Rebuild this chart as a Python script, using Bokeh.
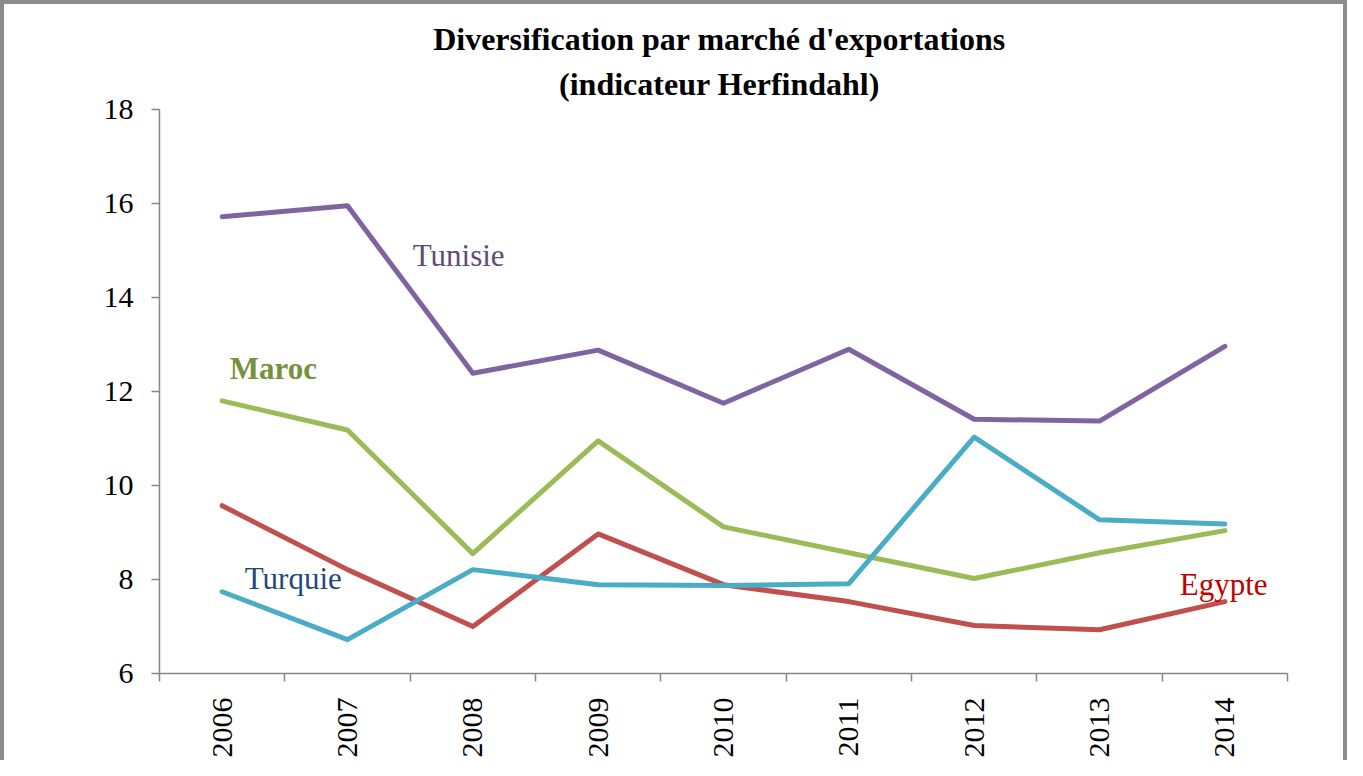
import math
from bokeh.plotting import figure
from bokeh.models import Range1d, FixedTicker, Title, Label
from bokeh.embed import file_html
from bokeh.resources import INLINE

# ---- data ----
years = [2006, 2007, 2008, 2009, 2010, 2011, 2012, 2013, 2014]
tunisie = [15.72, 15.95, 12.39, 12.88, 11.75, 12.90, 11.41, 11.37, 12.96]
maroc = [11.80, 11.18, 8.55, 10.95, 9.12, 8.57, 8.02, 8.57, 9.04]
egypte = [9.57, 8.21, 7.00, 8.97, 7.89, 7.53, 7.02, 6.93, 7.53]
turquie = [7.74, 6.72, 8.21, 7.89, 7.87, 7.91, 11.03, 9.27, 9.18]
y_ticks = [6, 8, 10, 12, 14, 16, 18]
title_line1 = "Diversification  par marché d'exportations"
title_line2 = "(indicateur  Herfindahl)"

SERIF = "Liberation Serif"
GRAY = "#868686"

p = figure(width=1347, height=760,
           x_range=Range1d(years[0] - 0.5, years[-1] + 0.5),
           y_range=Range1d(y_ticks[0], y_ticks[-1]),
           output_backend="svg", toolbar_location=None,
           min_border_left=159, min_border_right=60,
           min_border_top=109, min_border_bottom=86)

p.border_fill_alpha = 0
p.background_fill_color = "white"
p.outline_line_color = None
p.styles = {"background-color": "white",
            "box-shadow": "inset 4px 4px 0 0 #8c8c8c, inset -4px 0 0 0 #8c8c8c"}
p.xgrid.visible = False
p.ygrid.visible = False

# titles (first added is closest to the plot)
t2 = Title(text=title_line2, text_font=SERIF, text_font_size="32px",
           text_font_style="bold", text_color="black", align="center", offset=-49,
           standoff=15)
t1 = Title(text=title_line1, text_font=SERIF, text_font_size="32px",
           text_font_style="bold", text_color="black", align="center", offset=-49,
           standoff=0)
p.add_layout(t2, "above")
p.add_layout(t1, "above")

# axes
for ax in (p.xaxis[0], p.yaxis[0]):
    ax.axis_line_color = GRAY
    ax.axis_line_width = 1.5
    ax.major_label_text_font = SERIF
    ax.major_label_text_font_size = "30px"
    ax.major_label_text_color = "black"

p.yaxis.ticker = FixedTicker(ticks=y_ticks)
p.yaxis.major_tick_line_color = GRAY
p.yaxis.major_tick_line_width = 1.5
p.yaxis.major_tick_out = 8
p.yaxis.major_tick_in = 0
p.yaxis.minor_tick_line_color = None
p.yaxis.major_label_standoff = 18

p.xaxis.ticker = FixedTicker(ticks=years,
                             minor_ticks=[y - 0.5 for y in years] + [years[-1] + 0.5])
p.xaxis.major_tick_line_color = None
p.xaxis.minor_tick_line_color = GRAY
p.xaxis.minor_tick_line_width = 1.5
p.xaxis.minor_tick_out = 8
p.xaxis.minor_tick_in = 0
p.xaxis.major_label_orientation = math.pi / 2
p.xaxis.major_label_standoff = 16
p.xaxis.major_label_overrides = {y: str(y) for y in years}

# series
series = [
    (egypte, "#C0504D"),
    (maroc, "#9BBB59"),
    (tunisie, "#8064A2"),
    (turquie, "#4BACC6"),
]
for vals, col in series:
    p.line(years, vals, line_color=col, line_width=5,
           line_join="round", line_cap="round")

# series labels
labels = [
    ("Tunisie", 2007.52, 14.90, "#604A7B", "normal"),
    ("Maroc", 2006.06, 12.50, "#76923C", "bold"),
    ("Turquie", 2006.18, 8.02, "#1F497D", "normal"),
    ("Egypte", 2013.64, 7.89, "#C00000", "normal"),
]
for txt, lx, ly, col, style in labels:
    p.add_layout(Label(x=lx, y=ly, text=txt, text_font=SERIF,
                       text_font_size="31px", text_font_style=style,
                       text_color=col, text_align="left",
                       text_baseline="alphabetic"))

open("out.html", "w").write(file_html(p, INLINE))
